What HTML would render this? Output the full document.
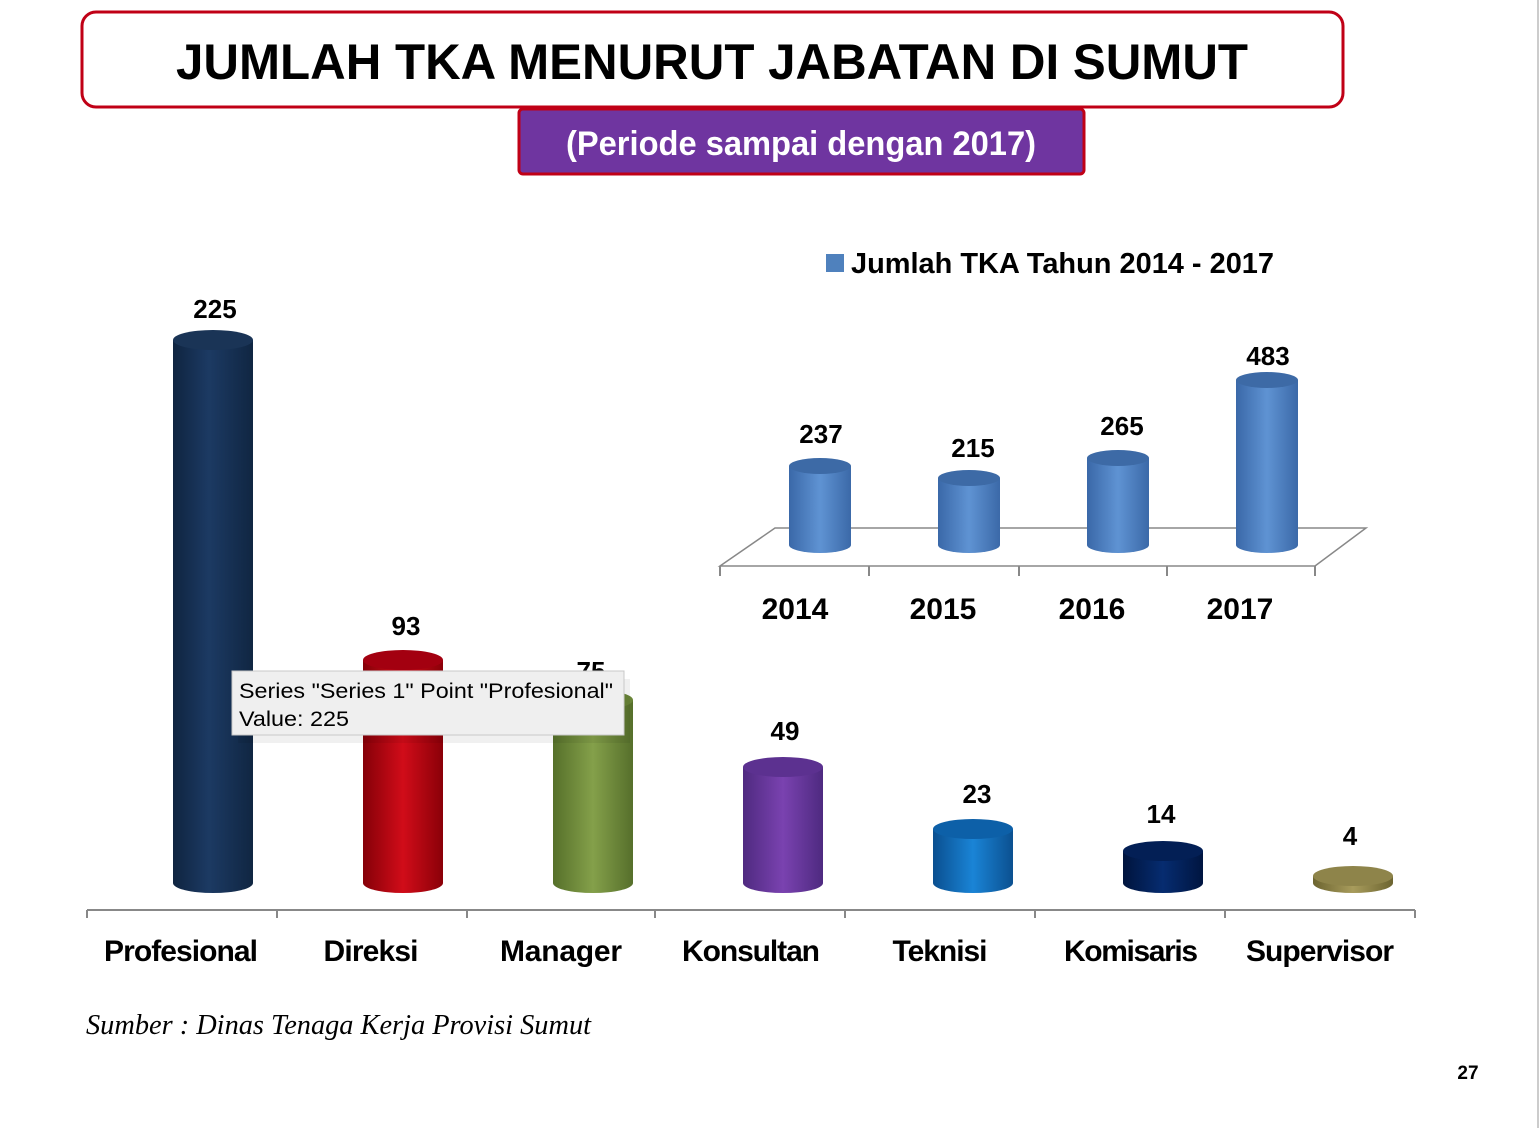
<!DOCTYPE html>
<html><head><style>
body{margin:0;background:#fff;}
svg text{font-family:"Liberation Sans",sans-serif;}
</style></head><body>
<svg width="1540" height="1128" viewBox="0 0 1540 1128" xmlns="http://www.w3.org/2000/svg">
<defs>
<linearGradient id="gb" x1="0" x2="1"><stop offset="0" stop-color="#0f2440"/><stop offset="0.45" stop-color="#1c3a63"/><stop offset="1" stop-color="#102642"/></linearGradient>
<linearGradient id="gr" x1="0" x2="1"><stop offset="0" stop-color="#850008"/><stop offset="0.5" stop-color="#d10c19"/><stop offset="1" stop-color="#8a0008"/></linearGradient>
<linearGradient id="gg" x1="0" x2="1"><stop offset="0" stop-color="#56702a"/><stop offset="0.5" stop-color="#84a04a"/><stop offset="1" stop-color="#566f2b"/></linearGradient>
<linearGradient id="gp" x1="0" x2="1"><stop offset="0" stop-color="#4f2a80"/><stop offset="0.5" stop-color="#7a42b0"/><stop offset="1" stop-color="#4e2a80"/></linearGradient>
<linearGradient id="gt" x1="0" x2="1"><stop offset="0" stop-color="#0a4f90"/><stop offset="0.5" stop-color="#1a84d6"/><stop offset="1" stop-color="#0b5090"/></linearGradient>
<linearGradient id="gn" x1="0" x2="1"><stop offset="0" stop-color="#00143d"/><stop offset="0.5" stop-color="#062c70"/><stop offset="1" stop-color="#001540"/></linearGradient>
<linearGradient id="gs" x1="0" x2="1"><stop offset="0" stop-color="#6c6430"/><stop offset="0.5" stop-color="#a89c5c"/><stop offset="1" stop-color="#6c6430"/></linearGradient>
<linearGradient id="gl" x1="0" x2="1"><stop offset="0" stop-color="#3a68a8"/><stop offset="0.5" stop-color="#5f93d3"/><stop offset="1" stop-color="#3b69a8"/></linearGradient>
</defs>
<line x1="1538" y1="0" x2="1538" y2="1128" stroke="#ccc" stroke-width="2"/>
<rect x="82" y="12" width="1261" height="95" rx="14" fill="#fff" stroke="#c00016" stroke-width="3"/>
<text x="712" y="79" text-anchor="middle" font-size="50" font-weight="bold" textLength="1072" lengthAdjust="spacingAndGlyphs">JUMLAH TKA MENURUT JABATAN DI SUMUT</text>
<rect x="519" y="109" width="565" height="65" rx="4" fill="#6f35a0" stroke="#c00016" stroke-width="3"/>
<text x="801" y="155" text-anchor="middle" font-size="34" font-weight="bold" fill="#fff" textLength="470" lengthAdjust="spacingAndGlyphs">(Periode sampai dengan 2017)</text>

<g>
<path d="M173 340 L173 883 A40 10 0 0 0 253 883 L253 340 Z" fill="url(#gb)"/><ellipse cx="213" cy="340" rx="40" ry="10" fill="#1a3456"/>
<path d="M363 660 L363 883 A40 10 0 0 0 443 883 L443 660 Z" fill="url(#gr)"/><ellipse cx="403" cy="660" rx="40" ry="10" fill="#a30010"/>
<path d="M553 700 L553 883 A40 10 0 0 0 633 883 L633 700 Z" fill="url(#gg)"/><ellipse cx="593" cy="700" rx="40" ry="10" fill="#6a8538"/>
<path d="M743 767 L743 883 A40 10 0 0 0 823 883 L823 767 Z" fill="url(#gp)"/><ellipse cx="783" cy="767" rx="40" ry="10" fill="#5c3190"/>
<path d="M933 829 L933 883 A40 10 0 0 0 1013 883 L1013 829 Z" fill="url(#gt)"/><ellipse cx="973" cy="829" rx="40" ry="10" fill="#0d60a8"/>
<path d="M1123 851 L1123 883 A40 10 0 0 0 1203 883 L1203 851 Z" fill="url(#gn)"/><ellipse cx="1163" cy="851" rx="40" ry="10" fill="#031f55"/>
<path d="M1313 876 L1313 883 A40 10 0 0 0 1393 883 L1393 876 Z" fill="url(#gs)"/><ellipse cx="1353" cy="876" rx="40" ry="10" fill="#8e844a"/>
</g>
<g font-size="26" font-weight="bold" text-anchor="middle">
<text x="215" y="318">225</text><text x="406" y="635">93</text><text x="591" y="680">75</text>
<text x="785" y="740">49</text><text x="977" y="803">23</text><text x="1161" y="823">14</text><text x="1350" y="845">4</text>
</g>
<g stroke="#888" stroke-width="2">
<line x1="87" y1="910" x2="1415" y2="910"/>
<line x1="87" y1="910" x2="87" y2="918"/><line x1="277" y1="910" x2="277" y2="918"/><line x1="467" y1="910" x2="467" y2="918"/><line x1="655" y1="910" x2="655" y2="918"/><line x1="845" y1="910" x2="845" y2="918"/><line x1="1035" y1="910" x2="1035" y2="918"/><line x1="1225" y1="910" x2="1225" y2="918"/><line x1="1415" y1="910" x2="1415" y2="918"/>
</g>
<g font-size="30" font-weight="bold" text-anchor="middle" lengthAdjust="spacingAndGlyphs">
<text x="181" y="961" textLength="154">Profesional</text><text x="371" y="961" textLength="95">Direksi</text><text x="561" y="961" textLength="122">Manager</text><text x="751" y="961" textLength="138">Konsultan</text><text x="940" y="961" textLength="95">Teknisi</text><text x="1131" y="961" textLength="134">Komisaris</text><text x="1320" y="961" textLength="148">Supervisor</text>
</g>

<rect x="236" y="675" width="392" height="64" fill="#000" opacity="0.06" transform="translate(2,4)"/>
<rect x="232" y="671" width="392" height="64" fill="#efefef" stroke="#c8c8c8" stroke-width="1"/>
<text x="239" y="698" font-size="21" textLength="374" lengthAdjust="spacingAndGlyphs">Series "Series 1" Point "Profesional"</text>
<text x="239" y="726" font-size="21" textLength="110" lengthAdjust="spacingAndGlyphs">Value: 225</text>

<rect x="826" y="254" width="18" height="18" fill="#4f81bd"/>
<text x="851" y="273" font-size="29" font-weight="bold" textLength="423" lengthAdjust="spacingAndGlyphs">Jumlah TKA Tahun 2014 - 2017</text>
<polygon points="720,566 1315,566 1366,528 775,528" fill="#fff" stroke="#888" stroke-width="1.5"/>
<g stroke="#888" stroke-width="2">
<line x1="720" y1="566" x2="720" y2="576"/><line x1="869" y1="566" x2="869" y2="576"/><line x1="1019" y1="566" x2="1019" y2="576"/><line x1="1167" y1="566" x2="1167" y2="576"/><line x1="1315" y1="566" x2="1315" y2="576"/>
</g>
<path d="M789 466 L789 545 A31 8 0 0 0 851 545 L851 466 Z" fill="url(#gl)"/><ellipse cx="820" cy="466" rx="31" ry="8" fill="#3d6aa6"/>
<path d="M938 478 L938 545 A31 8 0 0 0 1000 545 L1000 478 Z" fill="url(#gl)"/><ellipse cx="969" cy="478" rx="31" ry="8" fill="#3d6aa6"/>
<path d="M1087 458 L1087 545 A31 8 0 0 0 1149 545 L1149 458 Z" fill="url(#gl)"/><ellipse cx="1118" cy="458" rx="31" ry="8" fill="#3d6aa6"/>
<path d="M1236 380 L1236 545 A31 8 0 0 0 1298 545 L1298 380 Z" fill="url(#gl)"/><ellipse cx="1267" cy="380" rx="31" ry="8" fill="#3d6aa6"/>
<g font-size="26" font-weight="bold" text-anchor="middle">
<text x="821" y="443">237</text><text x="973" y="457">215</text><text x="1122" y="435">265</text><text x="1268" y="365">483</text>
</g>
<g font-size="30" font-weight="bold" text-anchor="middle">
<text x="795" y="619">2014</text><text x="943" y="619">2015</text><text x="1092" y="619">2016</text><text x="1240" y="619">2017</text>
</g>

<text x="86" y="1034" font-style="italic" font-size="28" style="font-family:'Liberation Serif',serif" textLength="505" lengthAdjust="spacingAndGlyphs">Sumber : Dinas Tenaga Kerja Provisi Sumut</text>
<text x="1468" y="1079" font-size="19" font-weight="bold" text-anchor="middle">27</text>
</svg>
</body></html>
